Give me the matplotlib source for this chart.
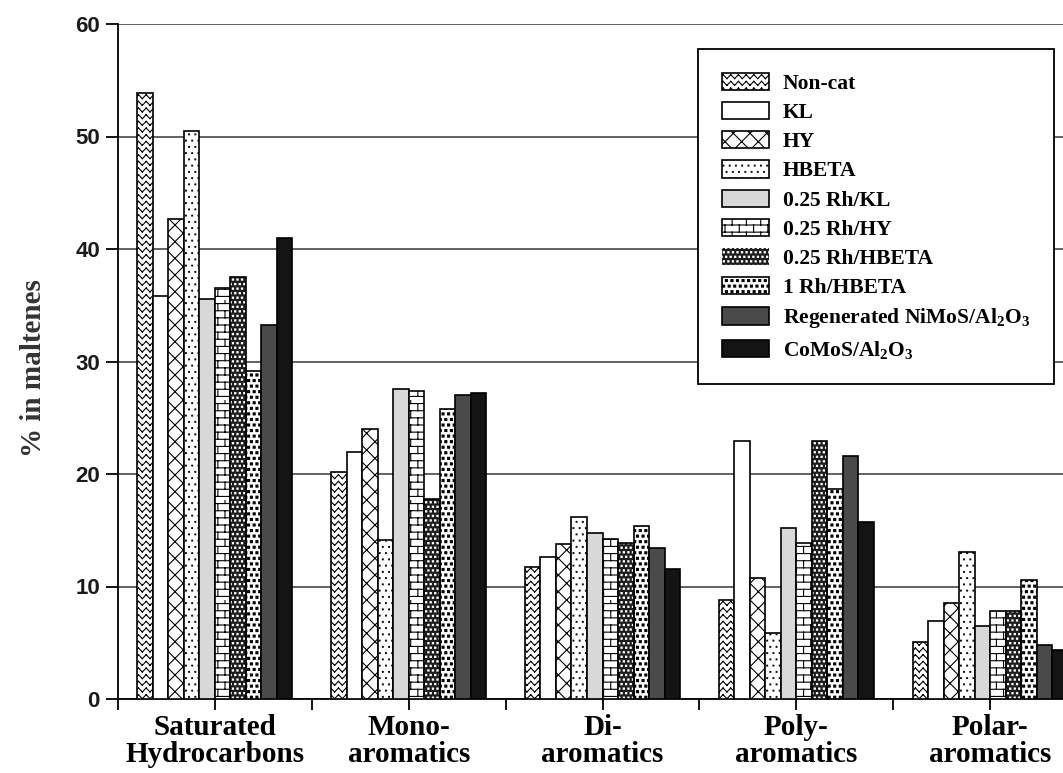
import warnings
import numpy as np
import matplotlib
matplotlib.use('Agg')
import matplotlib.pyplot as plt
from matplotlib import hatch as mhatch
from matplotlib.path import Path

warnings.filterwarnings('ignore')

# ---- data (% in maltenes) ----
categories = ['Saturated\nHydrocarbons', 'Mono-\naromatics', 'Di-\naromatics',
              'Poly-\naromatics', 'Polar-\naromatics']
series_names = ['Non-cat', 'KL', 'HY', 'HBETA', '0.25 Rh/KL', '0.25 Rh/HY',
                '0.25 Rh/HBETA', '1 Rh/HBETA',
                'Regenerated NiMoS/Al$_2$O$_3$', 'CoMoS/Al$_2$O$_3$']
non_cat = [53.9, 20.2, 11.7, 8.8, 5.1]
kl = [35.8, 22.0, 12.6, 22.9, 6.9]
hy = [42.7, 24.0, 13.8, 10.8, 8.5]
hbeta = [50.5, 14.1, 16.2, 5.9, 13.1]
rh_kl = [35.6, 27.6, 14.8, 15.2, 6.5]
rh_hy = [36.5, 27.4, 14.2, 13.9, 7.8]
rh_hbeta = [37.5, 17.8, 13.9, 22.9, 7.8]
rh1_hbeta = [29.2, 25.8, 15.4, 18.7, 10.6]
nimos = [33.2, 27.0, 13.4, 21.6, 4.8]
comos = [41.0, 27.2, 11.6, 15.7, 4.4]
series = [non_cat, kl, hy, hbeta, rh_kl, rh_hy, rh_hbeta, rh1_hbeta, nimos, comos]


# ---- extra hatch patterns (zigzag, bricks, square dots) ----
def _segments(verts, codes, segs):
    segs = np.asarray(segs, float).reshape(-1, 2)
    verts[:] = segs
    codes[0::2] = Path.MOVETO
    codes[1::2] = Path.LINETO


class ZigzagHatch(mhatch.HatchPatternBase):
    def __init__(self, hatch, density):
        n = hatch.count('z')
        self.rows = 15 * n
        self.vs = 13 * n
        self.num_vertices = self.rows * self.vs * 4

    def set_vertices_and_codes(self, vertices, codes):
        segs = []
        h = 0.6 / self.rows
        for i in range(self.rows):
            y0 = (i + 0.2) / self.rows
            for j in range(self.vs):
                xa, xm, xb = j / self.vs, (j + 0.5) / self.vs, (j + 1) / self.vs
                segs += [(xa, y0 + h), (xm, y0), (xm, y0), (xb, y0 + h)]
        _segments(vertices, codes, segs)


class BrickHatch(mhatch.HatchPatternBase):
    def __init__(self, hatch, density):
        n = hatch.count('b')
        self.rows = 14 * n
        self.cols = 7 * n
        self.num_vertices = self.rows * 2 + self.rows * self.cols * 2

    def set_vertices_and_codes(self, vertices, codes):
        segs = []
        for i in range(self.rows):
            y0 = (i + 0.5) / self.rows
            y1 = (i + 1.5) / self.rows if i < self.rows - 1 else 1.0
            segs += [(0, y0), (1, y0)]
            off = 0.25 if i % 2 == 0 else 0.75
            for j in range(self.cols):
                x = (j + off) / self.cols
                segs += [(x, y0), (x, y1)]
        _segments(vertices, codes, segs)


def dot_hatch(char, n, half):
    class DotHatch(mhatch.HatchPatternBase):
        def __init__(self, hatch, density):
            self.k = hatch.count(char)
            self.num_vertices = (n * n * 5) if self.k else 0

        def set_vertices_and_codes(self, vertices, codes):
            pts = []
            for i in range(n):
                y = (i + 0.5) / n
                off = 0.25 if i % 2 == 0 else 0.75
                for j in range(n):
                    x = (j + off) / n
                    pts += [(x - half, y - half), (x + half, y - half),
                            (x + half, y + half), (x - half, y + half),
                            (x - half, y - half)]
            vertices[:] = pts
            codes[:] = np.tile([Path.MOVETO, Path.LINETO, Path.LINETO,
                                Path.LINETO, Path.CLOSEPOLY], n * n)
    return DotHatch


mhatch._hatch_types.extend([
    ZigzagHatch, BrickHatch,
    dot_hatch('d', 16, 0.004),   # sparse small dots
    dot_hatch('w', 22, 0.006),   # white dots on dark
    dot_hatch('k', 18, 0.010),   # dense bold dots
])

plt.rcParams['hatch.linewidth'] = 0.8
plt.rcParams['mathtext.fontset'] = 'custom'
plt.rcParams['mathtext.rm'] = 'Liberation Serif:bold'
plt.rcParams['mathtext.default'] = 'rm'

styles = [
    dict(color='white', hatch='z', edge='black'),
    dict(color='white', hatch=None, edge='black'),
    dict(color='white', hatch='xx', edge='black'),
    dict(color='white', hatch='d', edge='black'),
    dict(color='#d8d8d8', hatch=None, edge='black'),
    dict(color='white', hatch='b', edge='black'),
    dict(color='#1c1c1c', hatch='w', edge='white'),
    dict(color='white', hatch='k', edge='black'),
    dict(color='#4a4a4a', hatch=None, edge='black'),
    dict(color='#141414', hatch=None, edge='black'),
]

fig = plt.figure(figsize=(10.63, 7.73), dpi=100)
ax = fig.add_axes([118 / 1063, 74 / 773, 969 / 1063, 675 / 773])

x = np.arange(len(categories))
w = 0.08
handles = []
for i, (vals, st) in enumerate(zip(series, styles)):
    pos = x + (i - 4.5) * w
    if st['edge'] == 'white':
        # hatch in white, outline drawn separately in black
        ax.bar(pos, vals, w, color=st['color'], edgecolor='white', hatch=st['hatch'],
               linewidth=0, zorder=3)
        ax.bar(pos, vals, w, fill=False, edgecolor='black', linewidth=1.2, zorder=4)
        h = plt.Rectangle((0, 0), 1, 1, facecolor=st['color'], edgecolor='white',
                          hatch=st['hatch'], linewidth=0)
        handles.append(h)
    else:
        b = ax.bar(pos, vals, w, color=st['color'], edgecolor='black', hatch=st['hatch'],
                   linewidth=1.2, zorder=3)
        handles.append(b)

ax.set_xlim(-0.5, 4.5)
ax.set_ylim(0, 60)
ax.set_yticks(np.arange(0, 61, 10))
ax.yaxis.grid(True, color='#555555', linewidth=1.3, zorder=0)
ax.set_axisbelow(True)
for s in ['top', 'right']:
    ax.spines[s].set_visible(False)
ax.spines['left'].set_linewidth(1.3)
ax.spines['bottom'].set_linewidth(1.3)

ax.set_xticks(x)
ax.set_xticks(np.arange(-0.5, 4.6, 1.0), minor=True)
ax.set_xticklabels(categories, family='Liberation Serif', weight='bold', fontsize=21,
                   linespacing=1.0)
ax.tick_params(axis='x', which='both', length=8, width=1.3, pad=3)
ax.tick_params(axis='y', length=9, width=1.3, pad=4)
for t in ax.get_yticklabels():
    t.set_family('Liberation Sans')
    t.set_weight('bold')
    t.set_fontsize(16)
    t.set_color('#1a1a1a')

ax.set_ylabel('% in maltenes', family='Liberation Serif', weight='bold', fontsize=21,
              color='#333333')
ax.yaxis.set_label_coords(-0.073, 0.49)

leg = ax.legend(handles, series_names, loc='upper left',
                bbox_to_anchor=(698 / 1063, 1 - 49 / 773), bbox_transform=fig.transFigure,
                prop=dict(family='Liberation Serif', weight='bold', size=15.5),
                frameon=True, fancybox=False, edgecolor='black', framealpha=1,
                handlelength=2.2, handleheight=0.85, labelspacing=0.38,
                borderpad=1.1, borderaxespad=0, handletextpad=0.65)
leg.get_frame().set_linewidth(1.3)
leg.set_zorder(5)

fig.savefig('out.png', dpi=100)
